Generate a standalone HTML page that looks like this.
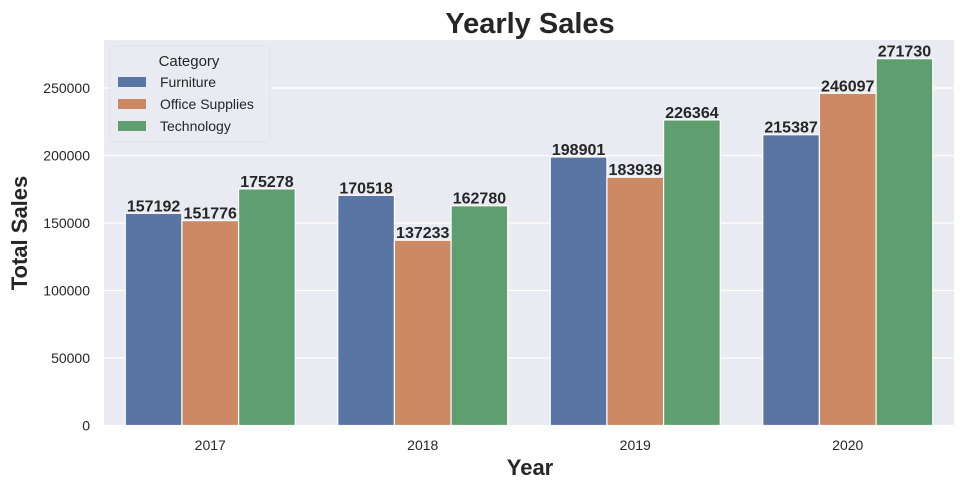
<!DOCTYPE html>
<html><head><meta charset="utf-8"><style>
body{margin:0;background:#fff;font-family:"Liberation Sans","DejaVu Sans",sans-serif}
svg text{font-family:"Liberation Sans","DejaVu Sans",sans-serif}
</style></head><body>
<svg id="chart" width="965" height="491" xmlns="http://www.w3.org/2000/svg">
<rect x="104" y="40" width="850" height="385.5" fill="#eaeaf2"/>
<g id="grid"></g><g id="bars"></g><g id="labels"></g>
<text x="530" y="33" text-anchor="middle" font-size="29" font-weight="bold" fill="#262626">Yearly Sales</text>
<text x="530" y="475" text-anchor="middle" font-size="22" font-weight="bold" fill="#262626">Year</text>
<text transform="translate(27,233) rotate(-90)" text-anchor="middle" font-size="22" font-weight="bold" fill="#262626">Total Sales</text>
<g>
<rect x="110" y="46" width="160" height="96" rx="4" fill="#eaeaf2" stroke="#e0e0e8" stroke-width="0.8"/>
<text x="189" y="66" text-anchor="middle" font-size="15" fill="#262626">Category</text>
<g id="legend-items"></g>
</g>
</svg>
<script>
const categories=["2017","2018","2019","2020"];
const seriesNames=["Furniture","Office Supplies","Technology"];
const furniture=[157192,170518,198901,215387];
const officeSupplies=[151776,137233,183939,246097];
const technology=[175278,162780,226364,271730];
const yTicks=[0,50000,100000,150000,200000,250000];
const colors=["#5875a4","#cc8963","#5f9e6e"];
const series=[furniture,officeSupplies,technology];
const NS="http://www.w3.org/2000/svg";
const L=104,R=954,Y0=425.5,K=67.5/50000;
const y=v=>Y0-v*K;
const step=(R-L)/categories.length;
const cx=i=>L+step*(i+0.5);
const bw=step*0.8/3;
function mk(t,a,p){const e=document.createElementNS(NS,t);for(const k in a)e.setAttribute(k,a[k]);p.appendChild(e);return e;}
const grid=document.getElementById('grid'),bars=document.getElementById('bars'),labels=document.getElementById('labels'),svg=document.getElementById('chart');
yTicks.forEach(v=>{
 const l=mk('line',{x1:L,x2:R,y1:y(v),y2:y(v),stroke:'#fff','stroke-width':1.2},grid);
 
 
 const t=mk('text',{x:90,y:y(v)+5,'text-anchor':'end','font-size':14,fill:'#262626'},svg);
 t.textContent=v;
 
 
});
categories.forEach((c,i)=>{
 const t=mk('text',{x:cx(i),y:450,'text-anchor':'middle','font-size':14,fill:'#262626'},svg);
 t.textContent=c;
 
 
 series.forEach((s,j)=>{
  const x=cx(i)-1.5*bw+j*bw;
  const r=mk('rect',{x:x,y:y(s[i]),width:bw,height:Y0-y(s[i]),fill:colors[j],stroke:'#fff','stroke-width':1.2},bars);
  
  
  const lt=mk('text',{x:x+bw/2,y:y(s[i])-2,'text-anchor':'middle','font-size':16,'font-weight':'bold',fill:'#262626'},labels);
  lt.textContent=s[i];
  
  
 });
});
const li=document.getElementById('legend-items');
seriesNames.forEach((n,j)=>{
 const yy=82+j*22;
 const r=mk('rect',{x:118,y:yy-5,width:28,height:10,fill:colors[j]},li);
 
 
 const t=mk('text',{x:160,y:yy+5,'font-size':14,fill:'#262626'},li);
 t.textContent=n;
 
 
});
</script>
</body></html>
